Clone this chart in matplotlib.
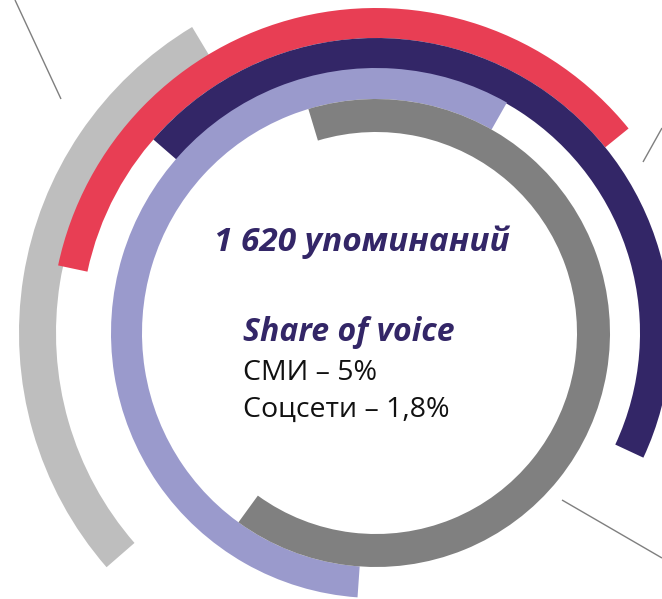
import matplotlib
matplotlib.use("Agg")
import matplotlib.pyplot as plt
from matplotlib.patches import Wedge

# Rings of the infographic, drawn from the outside in
ring_names = ["light", "red", "navy", "lavender", "gray"]
ring_colors = ["#BEBEBE", "#E83E54", "#332667", "#9A9ACC", "#808080"]
ring_inner = [320, 295, 264, 234, 201]
ring_outer = [357, 325, 295, 265, 234]
ring_start = [121.0, 39.0, -25.0, 60.4, -126.0]   # degrees, counterclockwise
ring_end = [221.0, 168.0, 139.0, 266.0, 106.8]

# thin leader lines (pixel positions, y from top)
leader_x = [[15, 61], [662, 643], [562, 662]]
leader_y = [[0, 99], [128, 162], [500, 558]]

title_text = "1 620 упоминаний"
sov_title = "Share of voice"
sov_lines = ["СМИ – 5%", "Соцсети – 1,8%"]

W, H = 662, 599
cx, cy = 376, H - 333

fig = plt.figure(figsize=(W / 100, H / 100), dpi=100)
ax = fig.add_axes([0, 0, 1, 1])
ax.set_xlim(0, W)
ax.set_ylim(0, H)
ax.set_aspect("equal")
ax.axis("off")

for name, col, r0, r1, t1, t2 in zip(ring_names, ring_colors, ring_inner,
                                     ring_outer, ring_start, ring_end):
    ax.add_patch(Wedge((cx, cy), r1, t1, t2, width=r1 - r0,
                       facecolor=col, edgecolor="none"))

for xs, ys in zip(leader_x, leader_y):
    ax.plot(xs, [H - y for y in ys], color="#7F7F7F", lw=1.0,
            solid_capstyle="butt")

fam = ["Open Sans", "DejaVu Sans"]
ax.text(214, H - 251, title_text, fontsize=24, fontweight="bold",
        style="italic", color="#332667", family=fam, va="baseline")
ax.text(243, H - 341, sov_title, fontsize=23, fontweight="bold",
        style="italic", color="#332667", family=fam, va="baseline")
ax.text(243, H - 380, sov_lines[0], fontsize=20.5, color="#111111",
        family=fam, va="baseline")
ax.text(243, H - 417, sov_lines[1], fontsize=20.5, color="#111111",
        family=fam, va="baseline")

fig.savefig("out.png", dpi=100)
